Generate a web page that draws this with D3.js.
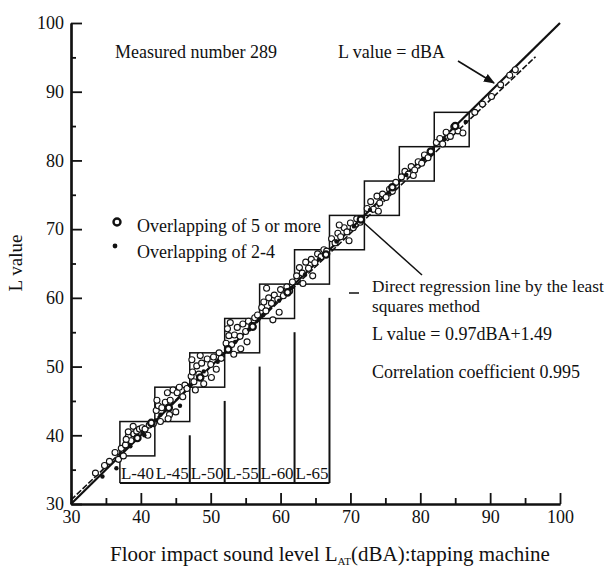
<!DOCTYPE html>
<html>
<head>
<meta charset="utf-8">
<script src="https://cdn.jsdelivr.net/npm/d3@7"></script>
<style>
  body { margin: 0; background: #fff; }
  text { font-family: "Liberation Serif", "Times New Roman", serif; fill: #111; }
</style>
</head>
<body>
<div id="chart"></div>
<script>
// tick values
const majorTicks = [30, 40, 50, 60, 70, 80, 90, 100];
const minorTicks = [35, 45, 55, 65, 75, 85, 95];

// L-grade boxes: lower corner (dBA = L), size 5
const boxStarts = [37, 42, 47, 52, 57, 62, 67, 72, 77, 82];
const gradeLabels = ["L-40", "L-45", "L-50", "L-55", "L-60", "L-65"];
const gradeCellStarts = [37, 42, 47, 52, 57, 62];
// dividers in the label row: [dBA, top L]
const gradeDividers = [[47, 40], [52, 45], [57, 50], [62, 55], [67, 60]];

// open circles: [dBA, L]
const openPoints = [
  [33.5,34.5],[34.8,35.6],[35.5,36.2],[36.3,37.5],[36.8,36.5],[37.2,38.1],[37.5,37.0],
  [37.8,38.6],[38.2,39.8],[38.6,39.2],[38.2,40.5],[39.0,40.2],[39.4,40.6],[39.8,40.9],[40.2,41.1],[40.6,40.9],[38.9,41.3],[37.9,39.4],[41.2,41.5],[41.8,41.7],[41.0,40.0],
  [42.2,43.6],[42.5,44.3],[42.3,45.1],[43.0,44.0],[43.5,44.8],[43.8,46.2],[44.2,45.1],[44.6,46.6],[45.2,46.2],[45.0,43.4],[44.1,43.0],[46.0,45.6],[46.3,47.3],[45.5,47.0],[42.8,42.0],[43.9,42.4],[46.6,46.8],
  [47.2,48.6],[47.4,49.2],[47.6,47.8],[48.0,50.1],[48.3,48.9],[48.7,50.5],[49.2,49.0],[49.5,51.1],[50.0,50.3],[50.4,51.4],[50.8,49.6],[51.2,52.0],[51.5,51.2],[47.8,46.6],[49.0,47.5],[50.1,48.4],[47.3,51.0],[48.5,51.6],
  [52.2,53.4],[52.6,54.5],[52.4,55.5],[53.0,53.2],[53.4,54.6],[53.8,55.7],[54.2,54.4],[54.6,56.2],[55.0,55.1],[55.4,56.6],[55.9,56.0],[56.3,57.1],[56.7,57.5],[53.3,51.8],[54.3,52.6],[55.2,53.6],[52.8,56.4],
  [57.3,58.6],[57.6,59.4],[57.9,58.1],[58.3,60.0],[58.7,59.2],[59.1,60.4],[59.6,59.8],[60.0,61.2],[60.4,60.3],[60.9,61.6],[61.3,61.0],[61.7,62.3],[58.0,61.4],[58.9,56.8],[59.8,57.9],
  [62.3,63.2],[62.7,64.4],[63.1,63.6],[63.6,65.2],[64.0,64.3],[64.4,65.6],[64.9,65.1],[65.3,66.4],[65.8,66.0],[66.2,67.0],[66.6,66.8],[63.2,62.1],[64.6,63.2],
  [67.3,68.6],[67.8,68.0],[68.2,69.4],[68.6,68.9],[69.1,70.2],[69.5,69.6],[70.0,70.9],[70.4,70.2],[70.9,71.5],[71.4,71.0],[68.4,70.6],[69.8,68.3],
  [72.4,73.0],[72.9,74.0],[73.3,72.9],[73.8,74.8],[74.2,73.8],[74.6,75.1],[75.1,74.6],[75.6,75.8],[76.0,75.5],[76.5,76.8],[74.0,72.6],
  [77.3,77.6],[77.8,78.4],[78.3,78.0],[78.7,79.1],[79.2,78.6],[79.7,79.8],[80.2,79.6],[80.6,80.8],[81.1,80.4],[81.6,81.2],[79.0,77.8],
  [82.3,82.6],[82.8,83.2],[83.2,82.4],[83.7,84.1],[84.3,83.5],[84.8,84.9],[85.4,84.3],[86.1,84.0],
  [87.8,87.0],[88.9,88.2],[90.2,89.3],[91.5,91.0],[92.8,92.4],[93.6,93.2]
];

// overlapping of 2-4 (filled dots)
const dotPoints = [
  [34.5,34.0],[36.5,35.2],[38.5,38.4],[40.5,40.0],[42.8,43.0],[45.6,44.3],[47.0,47.3],[49.0,49.3],
  [51.0,50.7],[53.5,53.6],[55.5,55.4],[57.5,57.5],[59.8,59.6],[61.5,61.4],[63.5,63.4],[65.5,65.6],
  [68.0,68.2],[70.5,70.4],[72.8,72.8],[75.5,75.3],[78.0,77.9],[80.5,80.2],[83.5,83.1],[86.5,85.6]
];

// overlapping of 5 or more (heavy circles)
const heavyPoints = [
  [39.5,39.6],[41.5,41.8],[44.0,44.0],[48.5,48.4],[52.5,52.5],[56.0,55.8],
  [61.0,60.8],[66.5,66.3],[71.5,71.4],[76.0,76.1],[81.5,81.3],[85.0,85.0]
];

// regression: L = 0.97 dBA + 1.49
const regSlope = 0.97, regIntercept = 1.49;
const regRange = [30, 96.5];
const equalRange = [30, 100];

const width = 610, height = 569;

const svg = d3.select("#chart").append("svg")
    .attr("width", width)
    .attr("height", height);

const x = d3.scaleLinear().domain([30, 100]).range([71, 560]);
const y = d3.scaleLinear().domain([30, 100]).range([504, 23]);

// axes, ticks pointing inward
const yAxis = d3.axisLeft(y).tickValues(majorTicks).tickSize(-11).tickSizeOuter(0).tickPadding(7);
const yMinor = d3.axisLeft(y).tickValues(minorTicks).tickSize(-5).tickSizeOuter(0).tickFormat("");
const xAxis = d3.axisBottom(x).tickValues(majorTicks).tickSize(-11).tickSizeOuter(0).tickPadding(6);
const xMinor = d3.axisBottom(x).tickValues(minorTicks).tickSize(-6).tickSizeOuter(0).tickFormat("");

function styleAxis(g) {
    g.select(".domain").attr("stroke", "#111").attr("stroke-width", 2.2);
    g.selectAll(".tick line").attr("stroke", "#111").attr("stroke-width", 1.8);
    g.selectAll(".tick text")
        .attr("font-family", "Liberation Serif, serif")
        .attr("font-size", 18)
        .attr("fill", "#111");
}

svg.append("g").attr("transform", "translate(71,0)").call(yAxis).call(styleAxis);
svg.append("g").attr("transform", "translate(71,0)").call(yMinor).call(styleAxis);
svg.append("g").attr("transform", "translate(0,504)").call(xAxis).call(styleAxis);
svg.append("g").attr("transform", "translate(0,504)").call(xMinor).call(styleAxis);

// grade boxes
svg.append("g").selectAll("rect")
    .data(boxStarts)
    .enter().append("rect")
    .attr("x", d => x(d))
    .attr("y", d => y(d + 5))
    .attr("width", d => x(d + 5) - x(d))
    .attr("height", d => y(d) - y(d + 5))
    .attr("fill", "none")
    .attr("stroke", "#111")
    .attr("stroke-width", 1.5);

// label row below the boxes
const rowBottom = 483;
svg.append("line")
    .attr("x1", x(37)).attr("x2", x(37))
    .attr("y1", y(37)).attr("y2", rowBottom)
    .attr("stroke", "#111").attr("stroke-width", 1.5);
svg.append("line")
    .attr("x1", x(37)).attr("x2", x(67))
    .attr("y1", rowBottom).attr("y2", rowBottom)
    .attr("stroke", "#111").attr("stroke-width", 2);
svg.append("g").selectAll("line")
    .data(gradeDividers)
    .enter().append("line")
    .attr("x1", d => x(d[0])).attr("x2", d => x(d[0]))
    .attr("y1", d => y(d[1])).attr("y2", rowBottom)
    .attr("stroke", "#111")
    .attr("stroke-width", 2);
svg.append("g").selectAll("text")
    .data(gradeLabels)
    .enter().append("text")
    .attr("x", (d, i) => x(gradeCellStarts[i]) + 1)
    .attr("y", rowBottom - 4)
    .attr("font-size", 16)
    .attr("textLength", 33)
    .attr("lengthAdjust", "spacingAndGlyphs")
    .text(d => d);

// L value = dBA line
svg.append("line")
    .attr("x1", x(equalRange[0])).attr("y1", y(equalRange[0]))
    .attr("x2", x(equalRange[1])).attr("y2", y(equalRange[1]))
    .attr("stroke", "#111").attr("stroke-width", 2.2);

// regression line
svg.append("line")
    .attr("x1", x(regRange[0])).attr("y1", y(regSlope * regRange[0] + regIntercept))
    .attr("x2", x(regRange[1])).attr("y2", y(regSlope * regRange[1] + regIntercept))
    .attr("stroke", "#111").attr("stroke-width", 1.6)
    .attr("stroke-dasharray", "6,2");

// points
svg.append("g").selectAll("circle")
    .data(openPoints)
    .enter().append("circle")
    .attr("cx", d => x(d[0])).attr("cy", d => y(d[1]))
    .attr("r", 3)
    .attr("fill", "#fff")
    .attr("stroke", "#111")
    .attr("stroke-width", 1.1);

svg.append("g").selectAll("circle")
    .data(heavyPoints)
    .enter().append("circle")
    .attr("cx", d => x(d[0])).attr("cy", d => y(d[1]))
    .attr("r", 3.2)
    .attr("fill", "#fff")
    .attr("stroke", "#111")
    .attr("stroke-width", 2.2);

svg.append("g").selectAll("circle")
    .data(dotPoints)
    .enter().append("circle")
    .attr("cx", d => x(d[0])).attr("cy", d => y(d[1]))
    .attr("r", 2.2)
    .attr("fill", "#111");

// arrow marker
svg.append("defs").append("marker")
    .attr("id", "arrow")
    .attr("viewBox", "0 0 10 10")
    .attr("refX", 9).attr("refY", 5)
    .attr("markerWidth", 7).attr("markerHeight", 7)
    .attr("orient", "auto")
    .append("path")
    .attr("d", "M0,1 L10,5 L0,9 Z")
    .attr("fill", "#111");

// annotations
const annot = svg.append("g");
annot.append("text").attr("x", 115).attr("y", 58).attr("font-size", 18).text("Measured number 289");
annot.append("text").attr("x", 338).attr("y", 58).attr("font-size", 18).text("L value = dBA");
annot.append("line")
    .attr("x1", 458).attr("y1", 61).attr("x2", 494).attr("y2", 83)
    .attr("stroke", "#111").attr("stroke-width", 1.6)
    .attr("marker-end", "url(#arrow)");

// legend
annot.append("circle").attr("cx", 117).attr("cy", 222).attr("r", 3.5)
    .attr("fill", "#fff").attr("stroke", "#111").attr("stroke-width", 2.4);
annot.append("text").attr("x", 137).attr("y", 232).attr("font-size", 18).text("Overlapping of 5 or more");
annot.append("circle").attr("cx", 115).attr("cy", 246).attr("r", 2.4).attr("fill", "#111");
annot.append("text").attr("x", 137).attr("y", 258).attr("font-size", 18).text("Overlapping of 2-4");

// regression notes
annot.append("line")
    .attr("x1", 363).attr("y1", 222).attr("x2", 422).attr("y2", 275)
    .attr("stroke", "#111").attr("stroke-width", 1.5);
annot.append("line")
    .attr("x1", 349).attr("y1", 293).attr("x2", 359).attr("y2", 293)
    .attr("stroke", "#111").attr("stroke-width", 1.5);
annot.append("text").attr("x", 372).attr("y", 292).attr("font-size", 17.3).text("Direct regression line by the least");
annot.append("text").attr("x", 372).attr("y", 312).attr("font-size", 17.3).text("squares method");
annot.append("text").attr("x", 372).attr("y", 340).attr("font-size", 18).text("L value = 0.97dBA+1.49");
annot.append("text").attr("x", 372).attr("y", 378).attr("font-size", 18).text("Correlation coefficient 0.995");

// axis titles
svg.append("text")
    .attr("transform", "translate(22,263) rotate(-90)")
    .attr("text-anchor", "middle")
    .attr("font-size", 19)
    .text("L value");

const xTitle = svg.append("text")
    .attr("x", 330).attr("y", 561)
    .attr("text-anchor", "middle")
    .attr("font-size", 21);
xTitle.append("tspan").text("Floor impact sound level  L");
xTitle.append("tspan").attr("font-size", 11).attr("dy", 4).text("AT");
xTitle.append("tspan").attr("dy", -4).text("(dBA):tapping machine");
</script>
</body>
</html>
